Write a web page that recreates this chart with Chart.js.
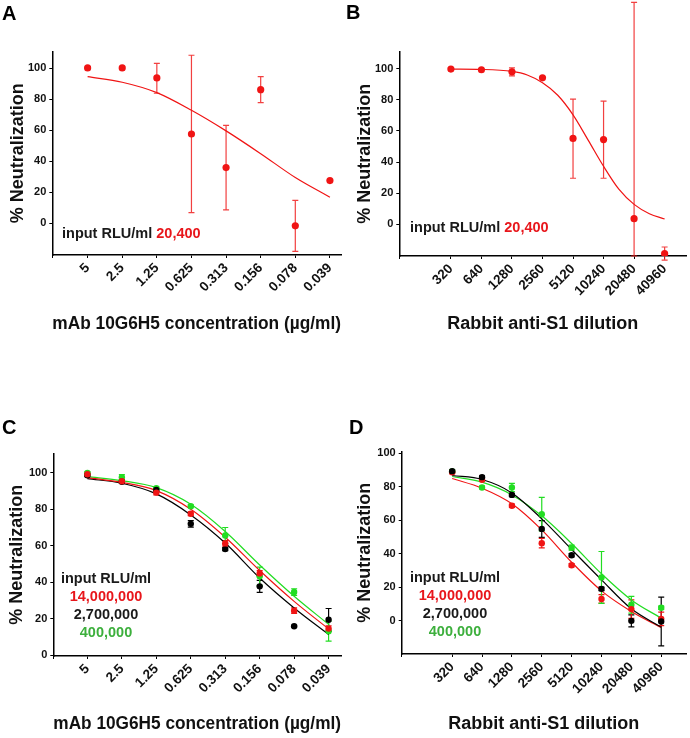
<!DOCTYPE html>
<html lang="en">
<head>
<meta charset="UTF-8">
<title>Neutralization curves</title>
<script src="https://cdn.jsdelivr.net/npm/chart.js"></script>
<style>
    body {
        margin: 0;
        background: #fff;
        font-family: 'Liberation Sans', Arial, sans-serif;
    }
    .page {
        position: relative;
        width: 690px;
        height: 738px;
        overflow: hidden;
    }
    canvas {
        position: absolute;
    }
    .letter {
        position: absolute;
        font-size: 20px;
        font-weight: bold;
        line-height: 20px;
        color: #000;
    }
    .note {
        position: absolute;
        font-size: 14.5px;
        font-weight: bold;
        line-height: 18px;
        color: #1a1a1a;
        white-space: nowrap;
    }
    .legend { text-align: center; width: 120px; }
    .red { color: #e8161b; }
    .green { color: #3caf3c; }
</style>
</head>
<body>
<div class="page">
    <canvas id="chartA" width="345" height="335" style="left:0;top:0"></canvas>
    <canvas id="chartB" width="345" height="335" style="left:345px;top:0"></canvas>
    <canvas id="chartC" width="345" height="335" style="left:0;top:400px"></canvas>
    <canvas id="chartD" width="345" height="335" style="left:345px;top:400px"></canvas>

    <div class="letter" style="left:2px;top:3px">A</div>
    <div class="letter" style="left:346px;top:2px">B</div>
    <div class="letter" style="left:2px;top:417px">C</div>
    <div class="letter" style="left:349px;top:417px">D</div>

    <div class="note" style="left:62px;top:224px">input RLU/ml <span class="red">20,400</span></div>
    <div class="note" style="left:410px;top:218px">input RLU/ml <span class="red">20,400</span></div>

    <div class="note legend" style="left:46px;top:569px">input RLU/ml<br><span class="red">14,000,000</span><br>2,700,000<br><span class="green">400,000</span></div>
    <div class="note legend" style="left:395px;top:568px">input RLU/ml<br><span class="red">14,000,000</span><br>2,700,000<br><span class="green">400,000</span></div>
</div>

<script>
// ---- data ----
const concLabels = ['5', '2.5', '1.25', '0.625', '0.313', '0.156', '0.078', '0.039'];
const dilutionLabels = ['320', '640', '1280', '2560', '5120', '10240', '20480', '40960'];
const yTicks = [0, 20, 40, 60, 80, 100];

// panel A: mAb 10G6H5, 20,400 RLU/ml
const aMean = [100.2, 100.2, 93.8, 57.6, 35.9, 86.2, -1.7, 27.5];
const aHigh = [null, null, 103.2, 108.4, 63.2, 94.6, 14.8, null];
const aLow  = [null, null, 83.9, 6.9, 8.6, 77.8, -18.1, null];
const aFitX = [0, 1, 2, 3, 4, 5, 6, 7];
const aFit  = [94.6, 91, 84.3, 72.9, 59.6, 44.9, 29.5, 16.8];

// panel B: rabbit anti-S1, 20,400 RLU/ml
const bMean = [99.8, 99.4, 98.1, 94.2, 55.2, 54.5, 3.6, -18.9];
const bHigh = [null, null, 100.6, null, 80.5, 79.2, 142.7, -14.6];
const bLow  = [null, null, 95.5, null, 29.6, 29.6, -20.4, -23];
const bFitX = [0, 1, 2, 2.5, 3, 3.5, 4, 4.5, 5, 5.5, 6, 6.5, 7];
const bFit  = [99.8, 99.6, 98.3, 96, 91, 83, 70.4, 54, 37.3, 22.6, 12.8, 6.8, 3.4];

// panel C: mAb 10G6H5 at three inputs
const cRed   = [99.1, 95.3, 89.1, 77.5, 61.3, 44.9, 24.5, 14.7];
const cRedSd = [0.8, 0.8, 1.2, 1, 1.5, 1.5, 1.5, 1.5];
const cBlack   = [98.6, 95, 90.5, 72, 58.2, 37.8, 16, 19.5];
const cBlackSd = [0.8, 0.8, 1, 1.8, 0.8, 3.3, 0.5, 6.2];
const cGreen   = [99.8, 97.5, 91.5, 81.6, 65.6, 43.3, 34.7, 13.3];
const cGreenSd = [0.8, 1.5, 0.8, 0.8, 4.4, 5, 1.8, 5.5];
const cFitX = [0, 1, 2, 3, 4, 5, 6, 7];
const cRedFit   = [97.3, 94.7, 90.2, 80, 64.7, 46.5, 29.6, 14.5];
const cBlackFit = [96.7, 94.2, 88.4, 76.9, 61.5, 42.4, 26, 11.5];
const cGreenFit = [97.8, 95.6, 91.8, 82.7, 67.8, 49.5, 32.4, 17];

// panel D: rabbit anti-S1 at three inputs
const dBlack   = [89.2, 85.6, 75, 54.7, 39, 18.9, -0.2, -0.6];
const dBlackSd = [0.8, 0.8, 1, 5, 1, 1, 3.6, 14.6];
const dRed   = [88.5, 84, 68.5, 46.2, 33, 12.9, 6.8, 1];
const dRedSd = [0.8, 0.8, 1, 2.8, 1, 2.5, 5.5, 4];
const dGreen   = [89, 79.4, 79.4, 63.5, 43.5, 25.7, 9.4, 7.6];
const dGreenSd = [0.8, 0.8, 2.5, 10, 1.5, 15.5, 5, 1];
const dFitX = [0, 1, 2, 3, 4, 5, 6, 7];
const dBlackFit = [86.6, 84.2, 76.2, 60.7, 42.4, 24.3, 7, -4];
const dRedFit   = [84.8, 79, 69.7, 54.1, 34.8, 17.7, 5.4, -4.2];
const dGreenFit = [86, 82.6, 75, 62.5, 46, 27.9, 12.3, 1.4];

const RED = '#f01414';
const BLACK = '#000000';
const GREEN = '#22dd22';
const FONT = "'Liberation Sans', Arial, sans-serif";

// draws vertical error bars with caps under the points
const errorBars = {
    id: 'errorBars',
    beforeDatasetsDraw(chart) {
        const ctx = chart.ctx;
        const xs = chart.scales.x, ys = chart.scales.y;
        chart.data.datasets.forEach(ds => {
            if (!ds.errHigh) return;
            ctx.save();
            ctx.strokeStyle = ds.errColor;
            ctx.lineWidth = 1.2;
            ds.data.forEach((p, j) => {
                if (ds.errHigh[j] == null) return;
                const x = xs.getPixelForValue(p.x);
                const y1 = ys.getPixelForValue(ds.errHigh[j]);
                const y2 = ys.getPixelForValue(ds.errLow[j]);
                ctx.beginPath();
                ctx.moveTo(x, y1); ctx.lineTo(x, y2);
                ctx.moveTo(x - 3, y1); ctx.lineTo(x + 3, y1);
                ctx.moveTo(x - 3, y2); ctx.lineTo(x + 3, y2);
                ctx.stroke();
            });
            ctx.restore();
        });
    }
};

function points(values, high, low, color, errColor, radius) {
    return {
        data: values.map((v, i) => ({ x: i, y: v })),
        errHigh: high, errLow: low, errColor: errColor,
        showLine: false,
        pointRadius: radius,
        pointBackgroundColor: color,
        pointBorderWidth: 0
    };
}

function withSd(values, sd, color, errColor) {
    const hi = values.map((v, i) => v + sd[i]);
    const lo = values.map((v, i) => v - sd[i]);
    return points(values, hi, lo, color, errColor, 3.2);
}

function fitLine(xs, ys, color) {
    return {
        data: xs.map((x, i) => ({ x: x, y: ys[i] })),
        showLine: true,
        borderColor: color,
        borderWidth: 1.2,
        pointRadius: 0,
        cubicInterpolationMode: 'monotone'
    };
}

function panel(id, o) {
    return new Chart(document.getElementById(id), {
        type: 'scatter',
        data: { datasets: o.datasets },
        options: {
            responsive: false,
            animation: false,
            layout: { padding: { top: o.padTop, right: o.padRight, left: 0, bottom: 0 } },
            plugins: { legend: { display: false }, tooltip: { enabled: false } },
            scales: {
                x: {
                    type: 'linear',
                    min: o.xMin, max: o.xMax,
                    afterBuildTicks: s => { s.ticks = [o.xMin, 0, 1, 2, 3, 4, 5, 6, 7].map(v => ({ value: v })); },
                    afterFit: s => { s.height = o.xHeight; s.paddingLeft = 0; s.paddingRight = 0; },
                    ticks: {
                        autoSkip: false, minRotation: 45, maxRotation: 45, padding: 2,
                        color: '#111', font: { family: FONT, size: 13.5, weight: 'bold' },
                        callback: v => (o.cats[v] !== undefined ? o.cats[v] : '')
                    },
                    grid: { drawOnChartArea: false, drawTicks: true, tickLength: 3, color: '#000', lineWidth: 1 },
                    border: { display: true, color: '#000', width: 1.5 },
                    title: {
                        display: true, text: o.xTitle, color: '#111',
                        font: { family: FONT, size: 18, weight: 'bold' },
                        padding: { top: 0, bottom: 0 }
                    }
                },
                y: {
                    min: o.yMin, max: o.yMax,
                    afterBuildTicks: s => { s.ticks = yTicks.map(v => ({ value: v })); },
                    afterFit: s => { s.width = o.yWidth; s.paddingTop = 0; s.paddingBottom = 0; },
                    ticks: { padding: 3, color: '#111', font: { family: FONT, size: 11, weight: 'bold' } },
                    grid: { drawOnChartArea: false, drawTicks: true, tickLength: 3, color: '#000', lineWidth: 1 },
                    border: { display: true, color: '#000', width: 1.5 },
                    title: {
                        display: true, text: '% Neutralization', color: '#111',
                        font: { family: FONT, size: 18, weight: 'bold' },
                        padding: { top: o.yTitlePad, bottom: 0 }
                    }
                }
            }
        },
        plugins: [errorBars]
    });
}

panel('chartA', {
    cats: concLabels, xTitle: 'mAb 10G6H5 concentration (\u00b5g/ml)',
    xMin: -1.02, xMax: 7.32, yMin: -20.5, yMax: 110.7,
    padTop: 51.7, padRight: 3.3, yWidth: 52.3, xHeight: 80, yTitlePad: 7.5,
    datasets: [
        points(aMean, aHigh, aLow, RED, 'rgba(240,30,30,0.85)', 3.6),
        fitLine(aFitX, aFit, RED)
    ]
});

panel('chartB', {
    cats: dilutionLabels, xTitle: 'Rabbit anti-S1 dilution',
    xMin: -1.69, xMax: 7.7, yMin: -20.4, yMax: 111,
    padTop: 51.7, padRight: 3.3, yWidth: 54.3, xHeight: 79, yTitlePad: 9.2,
    datasets: [
        points(bMean, bHigh, bLow, RED, 'rgba(240,30,30,0.85)', 3.6),
        fitLine(bFitX, bFit, RED)
    ]
});

panel('chartC', {
    cats: concLabels, xTitle: 'mAb 10G6H5 concentration (\u00b5g/ml)',
    xMin: -0.99, xMax: 7.36, yMin: -0.3, yMax: 110.6,
    padTop: 53.3, padRight: 2, yWidth: 53.3, xHeight: 79, yTitlePad: 6.7,
    datasets: [
        withSd(cRed, cRedSd, RED, RED),
        withSd(cBlack, cBlackSd, BLACK, BLACK),
        withSd(cGreen, cGreenSd, GREEN, GREEN),
        fitLine(cFitX, cRedFit, RED),
        fitLine(cFitX, cBlackFit, BLACK),
        fitLine(cFitX, cGreenFit, GREEN)
    ]
});

panel('chartD', {
    cats: dilutionLabels, xTitle: 'Rabbit anti-S1 dilution',
    xMin: -1.69, xMax: 7.83, yMin: -20, yMax: 100.8,
    padTop: 51.7, padRight: 3.3, yWidth: 56.7, xHeight: 81, yTitlePad: 9.2,
    datasets: [
        withSd(dBlack, dBlackSd, BLACK, BLACK),
        withSd(dRed, dRedSd, RED, RED),
        withSd(dGreen, dGreenSd, GREEN, GREEN),
        fitLine(dFitX, dBlackFit, BLACK),
        fitLine(dFitX, dRedFit, RED),
        fitLine(dFitX, dGreenFit, GREEN)
    ]
});
</script>
</body>
</html>
